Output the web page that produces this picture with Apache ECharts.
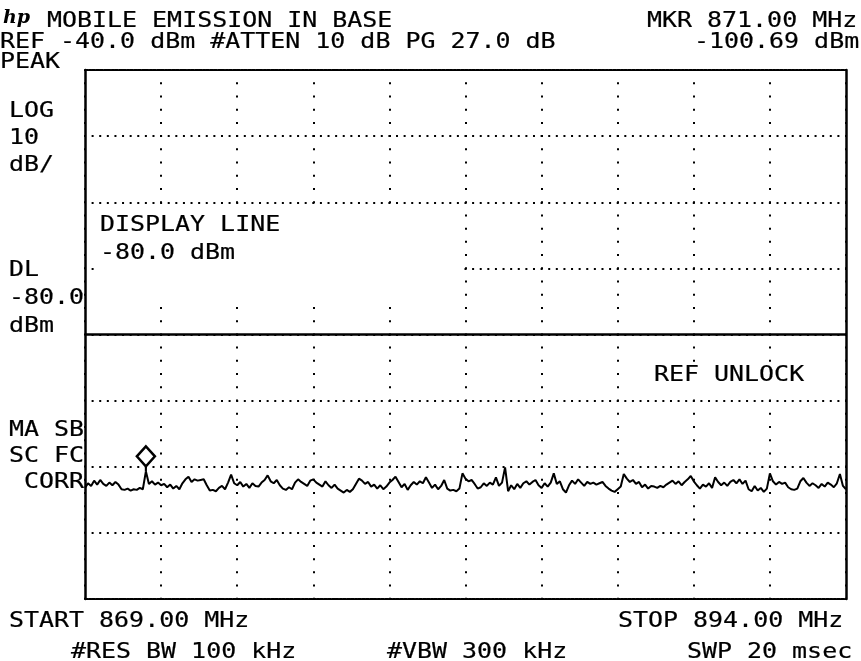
<!DOCTYPE html>
<html>
<head>
<meta charset="utf-8">
<title>MOBILE EMISSION IN BASE</title>
<script src="https://cdn.jsdelivr.net/npm/echarts@6/dist/echarts.min.js"></script>
<style>
  html, body { margin: 0; padding: 0; background: #fff; }
  #chart { width: 861px; height: 661px; }
</style>
</head>
<body>
<div id="chart"></div>
<script>
// sweep settings
const startMHz = 869
const stopMHz = 894
const refLevel = -40
const bottomLevel = -120
const dbPerDiv = 10
const displayLine = -80
const markerIndex = 20 // 871.00 MHz, -100.69 dBm

// trace, 251 points, 0.1 MHz apart (dBm)
const traceDbm = [
  -103.2, -102.5, -102.9, -102.1, -102.7, -102.0, -102.6, -102.9, -102.4, -102.8,
  -102.3, -102.7, -103.4, -103.5, -103.3, -103.6, -103.4, -103.5, -103.2, -103.4,
  -100.69, -102.6, -102.2, -102.7, -102.4, -102.8, -102.6, -103.1, -102.7, -103.3,
  -102.9, -103.4, -102.5, -101.9, -101.5, -102.3, -101.9, -102.1, -102.0, -101.9,
  -102.8, -103.6, -103.5, -103.7, -103.2, -102.9, -103.4, -102.4, -101.2, -102.5,
  -102.8, -102.3, -103.0, -102.6, -103.2, -102.5, -102.9, -103.0, -102.4, -102.0,
  -101.3, -102.2, -102.5, -102.0, -102.8, -103.3, -103.5, -103.1, -103.4, -102.4,
  -101.9, -102.3, -102.6, -102.9, -102.1, -101.9, -102.4, -102.7, -103.0, -102.2,
  -102.8, -103.2, -102.7, -103.3, -103.6, -103.9, -103.5, -103.8, -103.4, -102.6,
  -101.8, -102.1, -102.6, -102.3, -103.0, -102.7, -103.3, -102.8, -103.4, -103.0,
  -102.4, -102.0, -101.5, -102.3, -103.1, -102.6, -103.5, -102.8, -102.3, -102.7,
  -102.2, -102.5, -101.6, -102.4, -103.2, -102.7, -103.4, -102.9, -102.0, -103.3,
  -103.6, -103.5, -103.7, -103.3, -101.0, -101.8, -102.2, -102.0, -102.6, -103.3,
  -103.1, -102.5, -102.9, -102.4, -102.7, -101.6, -102.9, -102.4, -100.1, -103.7,
  -102.8, -103.4, -102.6, -103.2, -102.5, -102.2, -102.7, -102.3, -102.0, -102.8,
  -103.2, -102.5, -103.0, -102.4, -101.0, -102.6, -102.2, -103.4, -103.9, -102.8,
  -102.1, -102.6, -101.9, -102.4, -102.9, -102.3, -102.6, -102.4, -102.7, -102.5,
  -102.3, -102.9, -103.3, -103.6, -103.8, -103.4, -103.0, -101.1, -101.8, -102.3,
  -102.0, -102.6, -102.3, -103.1, -102.7, -103.3, -102.9, -103.0, -103.2, -102.9,
  -103.1, -102.7, -102.4, -102.1, -102.6, -102.2, -102.8, -102.3, -101.9, -101.4,
  -102.2, -102.8, -103.3, -102.7, -103.0, -102.5, -103.2, -101.6, -102.3, -102.8,
  -102.4, -102.9, -102.3, -102.0, -102.5, -101.9, -102.6, -102.1, -103.4, -103.7,
  -102.9, -103.6, -103.2, -103.8, -103.3, -101.0, -102.2, -102.7, -102.3, -102.6,
  -102.4, -103.1, -103.4, -103.5, -103.3, -102.2, -101.7, -102.4, -102.9, -102.5,
  -102.8, -103.2, -102.6, -103.0, -102.4, -102.7, -103.1, -102.5, -101.1, -102.9,
  -103.4
]

// x categories: frequency of each trace point
const freqs = traceDbm.map((v, i) =>
  (startMHz + i * (stopMHz - startMHz) / (traceDbm.length - 1)).toFixed(2))

const FONT = '"DejaVu Sans Mono", monospace'
const SX = 1.16 // the screen font is wider than DejaVu

function label(text, x, y) {
  return {
    type: 'text',
    x: x,
    y: y,
    scaleX: SX,
    z: 20,
    style: {
      text: text,
      font: '21.5px ' + FONT,
      fill: '#000',
      stroke: '#000',
      lineWidth: 0.2,
      align: 'left',
      verticalAlign: 'middle'
    }
  }
}

function blank(x, y, w, h) {
  return { type: 'rect', z: 10, shape: { x: x, y: y, width: w, height: h }, style: { fill: '#fff' } }
}

const borderDash = { color: '#000', width: 2, type: [2.6, 1.2] }
const borderSolid = { color: '#000', width: 2.5 }

const chart = echarts.init(document.getElementById('chart'))

const option = {
  animation: false,
  backgroundColor: '#fff',
  grid: { left: 85, right: 15, top: 70, bottom: 62 },
  xAxis: [
    {
      type: 'category',
      data: freqs,
      boundaryGap: false,
      axisLine: { onZero: false, lineStyle: borderDash },
      axisTick: { show: false },
      axisLabel: { show: false },
      splitLine: {
        show: true,
        interval: 24,
        lineStyle: { color: '#000', width: 2, type: [2, 11.22], dashOffset: 1 }
      }
    },
    {
      type: 'category',
      data: freqs,
      boundaryGap: false,
      position: 'top',
      axisLine: { onZero: false, lineStyle: borderDash },
      axisTick: { show: false },
      axisLabel: { show: false },
      splitLine: { show: false }
    }
  ],
  yAxis: [
    {
      type: 'value',
      min: bottomLevel,
      max: refLevel,
      interval: dbPerDiv,
      axisLine: { show: true, lineStyle: borderSolid },
      axisTick: { show: false },
      axisLabel: { show: false },
      splitLine: {
        show: true,
        lineStyle: { color: '#000', width: 2, type: [2, 5.61], dashOffset: 1 }
      }
    },
    {
      type: 'value',
      min: bottomLevel,
      max: refLevel,
      interval: dbPerDiv,
      position: 'right',
      axisLine: { show: true, lineStyle: borderSolid },
      axisTick: { show: false },
      axisLabel: { show: false },
      splitLine: { show: false }
    }
  ],
  series: [
    {
      type: 'line',
      data: traceDbm,
      symbol: 'none',
      lineStyle: { color: '#000', width: 2 },
      markLine: {
        silent: true,
        symbol: ['none', 'none'],
        label: { show: false },
        lineStyle: { color: '#000', width: 2.5, type: 'solid' },
        data: [{ yAxis: displayLine }]
      },
      markPoint: {
        silent: true,
        symbol: 'path://M9,0L18,10L9,20L0,10Z M9,20L9,25',
        symbolSize: [18, 25],
        symbolOffset: [0, -12.5],
        itemStyle: { color: '#fff', borderColor: '#000', borderWidth: 2.5 },
        label: { show: false },
        data: [{ coord: [freqs[markerIndex], traceDbm[markerIndex]] }]
      }
    }
  ],
  graphic: [
    blank(96, 204, 366, 97),
    blank(650, 363, 162, 28),
    {
      type: 'text', x: 3, y: 18, z: 20,
      style: { text: 'hp', font: 'italic bold 19px "DejaVu Serif"', fill: '#000', verticalAlign: 'middle' }
    },
    label('MOBILE EMISSION IN BASE', 47, 21),
    label('MKR 871.00 MHz', 647, 21),
    label('REF -40.0 dBm #ATTEN 10 dB PG 27.0 dB', 0, 42),
    label('-100.69 dBm', 694, 42),
    label('PEAK', 0, 62),
    label('LOG', 9, 111),
    label('10', 9, 138),
    label('dB/', 9, 165),
    label('DL', 9, 270),
    label('-80.0', 9, 298),
    label('dBm', 9, 326),
    label('MA SB', 9, 430),
    label('SC FC', 9, 456),
    label('CORR', 24, 482),
    label('DISPLAY LINE', 100, 225),
    label('-80.0 dBm', 100, 253),
    label('REF UNLOCK', 654, 375),
    label('START 869.00 MHz', 9, 621),
    label('STOP 894.00 MHz', 618, 621),
    label('#RES BW 100 kHz', 71, 652),
    label('#VBW 300 kHz', 387, 652),
    label('SWP 20 msec', 687, 652)
  ]
}

chart.setOption(option)
</script>
</body>
</html>
